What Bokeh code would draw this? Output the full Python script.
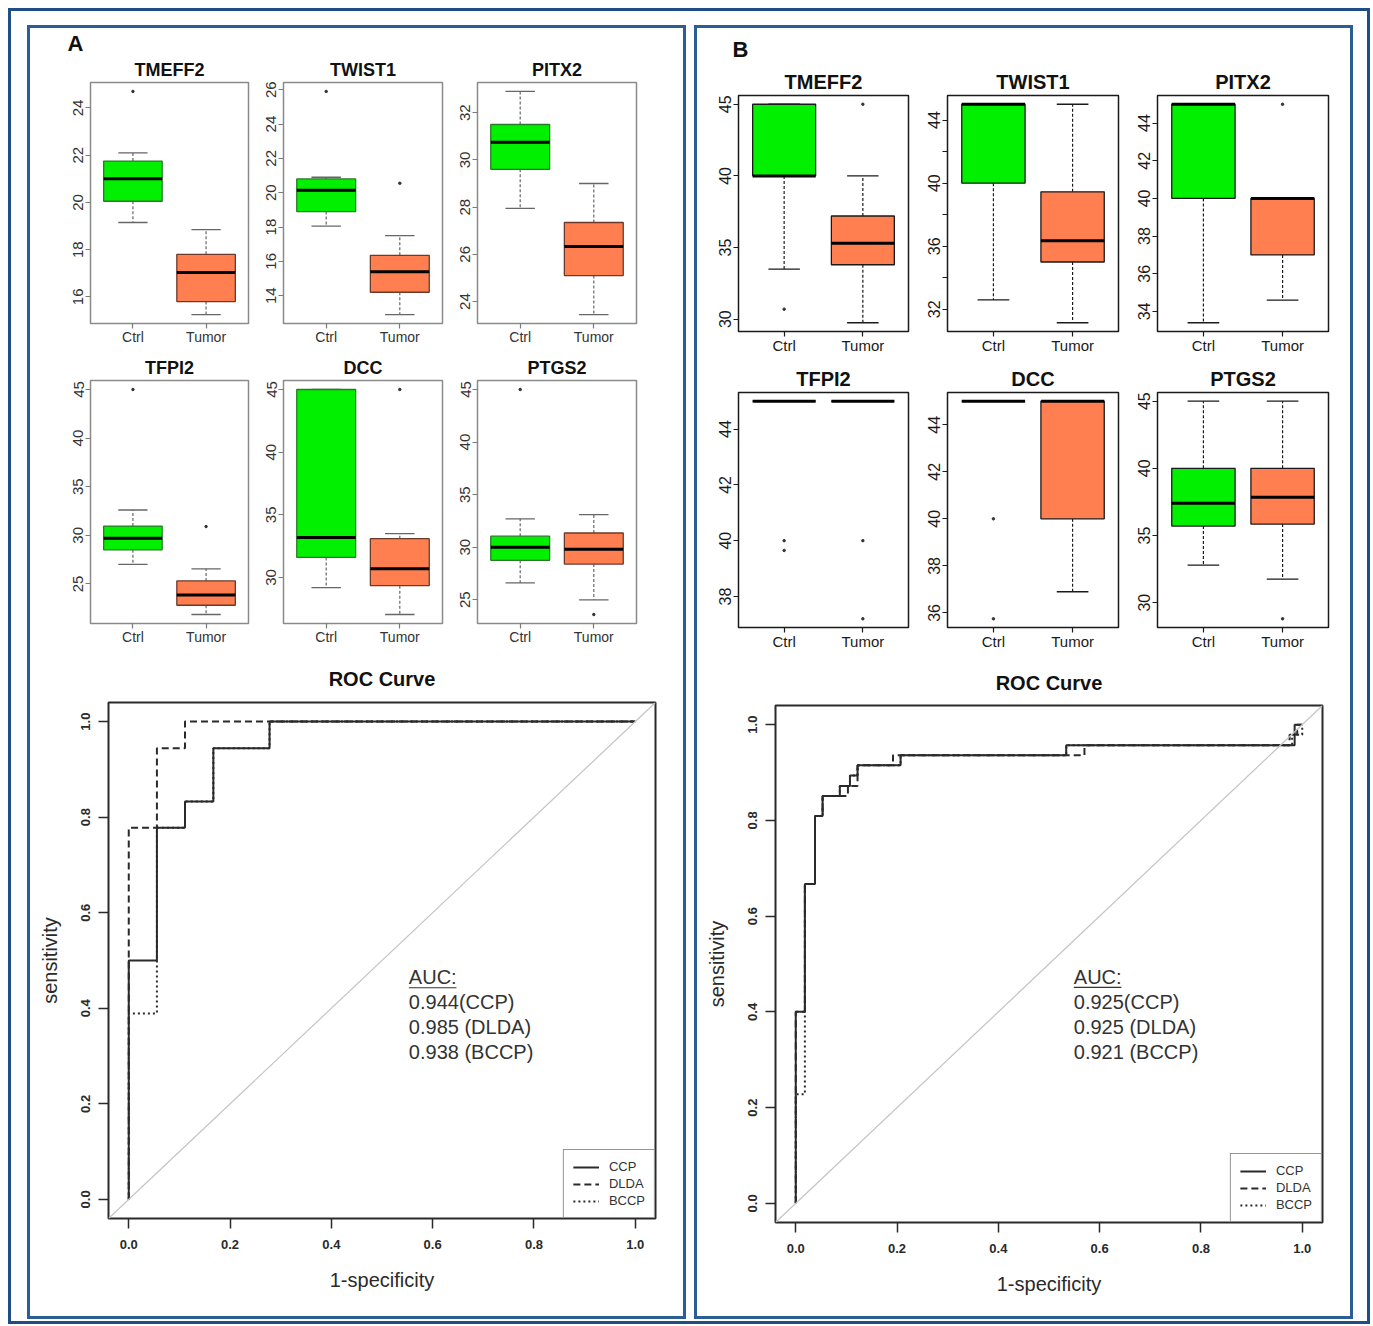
import math
from bokeh.plotting import figure
from bokeh.layouts import row, column
from bokeh.models import (ColumnDataSource, FixedTicker, Title, Label, Slope,
                          NumeralTickFormatter, Range1d)
from bokeh.transform import dodge
from bokeh.embed import file_html
from bokeh.resources import INLINE

FONT = "Liberation Sans"

# ---------------- data ----------------
groups = ["Ctrl", "Tumor"]
genes = ["TMEFF2", "TWIST1", "PITX2", "TFPI2", "DCC", "PTGS2"]

# Panel A box statistics (lower whisker, Q1, median, Q3, upper whisker) per gene
A_ctrl_low = [19.15, 18.05, 27.95, 27.0, 29.2, 26.6]
A_ctrl_q1 = [20.05, 18.9, 29.6, 28.5, 31.6, 28.75]
A_ctrl_med = [21.0, 20.15, 30.75, 29.7, 33.2, 30.0]
A_ctrl_q3 = [21.75, 20.8, 31.5, 30.95, 45.0, 31.05]
A_ctrl_high = [22.1, 20.9, 32.9, 32.6, 45.0, 32.7]
A_tumor_low = [15.25, 12.9, 23.45, 21.85, 27.05, 25.0]
A_tumor_q1 = [15.8, 14.2, 25.1, 22.8, 29.35, 28.4]
A_tumor_med = [17.03, 15.4, 26.33, 23.85, 30.7, 29.8]
A_tumor_q3 = [17.8, 16.35, 27.35, 25.3, 33.1, 31.35]
A_tumor_high = [18.85, 17.5, 29.0, 26.55, 33.5, 33.1]
A_ctrl_out = [[24.7], [25.9], [], [45.0], [], [45.0]]
A_tumor_out = [[], [20.55], [], [30.9], [45.0], [23.6]]
A_yticks = [[16, 18, 20, 22, 24], [14, 16, 18, 20, 22, 24, 26], [24, 26, 28, 30, 32],
            [25, 30, 35, 40, 45], [30, 35, 40, 45], [25, 30, 35, 40, 45]]
A_blank = [[], [], [], [], [], []]

# Panel B box statistics
B_ctrl_low = [33.5, 32.6, 33.4, 45.0, 45.0, 32.8]
B_ctrl_q1 = [40.0, 40.0, 40.0, 45.0, 45.0, 35.7]
B_ctrl_med = [40.0, 45.0, 45.0, 45.0, 45.0, 37.4]
B_ctrl_q3 = [45.0, 45.0, 45.0, 45.0, 45.0, 40.0]
B_ctrl_high = [45.0, 45.0, 45.0, 45.0, 45.0, 45.0]
B_tumor_low = [29.75, 31.15, 34.6, 45.0, 36.9, 31.75]
B_tumor_q1 = [33.8, 35.0, 37.0, 45.0, 40.0, 35.85]
B_tumor_med = [35.3, 36.35, 40.0, 45.0, 45.0, 37.85]
B_tumor_q3 = [37.2, 39.45, 40.0, 45.0, 45.0, 40.0]
B_tumor_high = [40.0, 45.0, 40.0, 45.0, 45.0, 45.0]
B_ctrl_out = [[30.7], [], [], [40.0, 39.65], [40.0, 35.75], []]
B_tumor_out = [[45.0], [], [45.0], [40.0, 37.2], [], [28.8]]
B_yticks = [[30, 35, 40, 45], [32, 34, 36, 38, 40, 42, 44], [34, 36, 38, 40, 42, 44],
            [38, 40, 42, 44], [36, 38, 40, 42, 44], [30, 35, 40, 45]]
B_blank = [[], [34, 38, 42], [], [], [], []]

# ROC curves (1-specificity, sensitivity)
A_ccp_fpr = [0.0, 0.0, 0.0556, 0.0556, 0.111, 0.111, 0.167, 0.167, 0.278, 0.278, 1.0]
A_ccp_tpr = [0.0, 0.5, 0.5, 0.778, 0.778, 0.833, 0.833, 0.944, 0.944, 1.0, 1.0]
A_dlda_fpr = [0.0, 0.0, 0.0556, 0.0556, 0.111, 0.111, 1.0]
A_dlda_tpr = [0.0, 0.778, 0.778, 0.944, 0.944, 1.0, 1.0]
A_bccp_fpr = [0.0, 0.0, 0.0556, 0.0556, 0.111, 0.111, 0.167, 0.167, 0.278, 0.278, 1.0]
A_bccp_tpr = [0.0, 0.389, 0.389, 0.778, 0.778, 0.833, 0.833, 0.944, 0.944, 1.0, 1.0]
A_auc = ["0.944(CCP)", "0.985 (DLDA)", "0.938 (BCCP)"]

B_ccp_fpr = [0.0, 0.0, 0.018, 0.018, 0.038, 0.038, 0.053, 0.053, 0.087, 0.087, 0.107, 0.107,
             0.122, 0.122, 0.207, 0.207, 0.534, 0.534, 0.985, 0.985, 1.0]
B_ccp_tpr = [0.0, 0.4, 0.4, 0.667, 0.667, 0.809, 0.809, 0.851, 0.851, 0.872, 0.872, 0.894,
             0.894, 0.915, 0.915, 0.936, 0.936, 0.957, 0.957, 1.0, 1.0]
B_dlda_fpr = [0.0, 0.0, 0.018, 0.018, 0.038, 0.038, 0.053, 0.053, 0.103, 0.103, 0.122, 0.122,
              0.192, 0.192, 0.57, 0.57, 0.975, 0.975, 0.99, 0.99, 1.0]
B_dlda_tpr = [0.0, 0.4, 0.4, 0.667, 0.667, 0.809, 0.809, 0.851, 0.851, 0.872, 0.872, 0.915,
              0.915, 0.936, 0.936, 0.957, 0.957, 0.979, 0.979, 1.0, 1.0]
B_bccp_fpr = [0.0, 0.0, 0.018, 0.018, 0.038, 0.038, 0.053, 0.053, 0.087, 0.087, 0.107, 0.107,
              0.122, 0.122, 0.207, 0.207, 0.534, 0.534, 0.98, 0.98, 1.0, 1.0]
B_bccp_tpr = [0.0, 0.228, 0.228, 0.667, 0.667, 0.809, 0.809, 0.851, 0.851, 0.872, 0.872, 0.894,
              0.894, 0.915, 0.915, 0.936, 0.936, 0.957, 0.957, 0.979, 0.979, 1.0]
B_auc = ["0.925(CCP)", "0.925 (DLDA)", "0.921 (BCCP)"]

# ---------------- styles ----------------
GREEN = "#00F000"
CORAL = "#FF7F50"
STYLE_A = dict(frame="#8a8a8a", tick="#7a7a7a", label="#333333", whisk="#666666",
               edge=["#2a7a2a", "#6a3a2a"], wdash="3 2", title_size="18px",
               ytick_size="15px", xtick_size="14px")
STYLE_B = dict(frame="#1a1a1a", tick="#1a1a1a", label="#1a1a1a", whisk="#1a1a1a",
               edge=["#1a1a1a", "#1a1a1a"], wdash="3 2", title_size="20px",
               ytick_size="16px", xtick_size="15px")


def style_title(t, text, size, align="center", offset=0, standoff=5):
    t.text = text
    t.align = align
    t.offset = offset
    t.text_font = FONT
    t.text_font_style = "bold"
    t.text_font_size = size
    t.text_color = "#111111"
    t.standoff = standoff


def box_fig(i, side, W, H, bl, br, bt, bb, st, letter=None, letter_offset=0, letter_standoff=0):
    if side == "A":
        ctrl = [A_ctrl_low[i], A_ctrl_q1[i], A_ctrl_med[i], A_ctrl_q3[i], A_ctrl_high[i]]
        tum = [A_tumor_low[i], A_tumor_q1[i], A_tumor_med[i], A_tumor_q3[i], A_tumor_high[i]]
        co, to, yt, bl_ticks = A_ctrl_out[i], A_tumor_out[i], A_yticks[i], A_blank[i]
    else:
        ctrl = [B_ctrl_low[i], B_ctrl_q1[i], B_ctrl_med[i], B_ctrl_q3[i], B_ctrl_high[i]]
        tum = [B_tumor_low[i], B_tumor_q1[i], B_tumor_med[i], B_tumor_q3[i], B_tumor_high[i]]
        co, to, yt, bl_ticks = B_ctrl_out[i], B_tumor_out[i], B_yticks[i], B_blank[i]
    lo = min([ctrl[0], tum[0]] + co + to)
    hi = max([ctrl[4], tum[4]] + co + to)
    pad = (hi - lo) * 0.04
    p = figure(width=W, height=H, x_range=Range1d(0.42, 2.58), y_range=Range1d(lo - pad, hi + pad),
               toolbar_location=None, output_backend="svg", tools="")
    p.min_border_left, p.min_border_right, p.min_border_top, p.min_border_bottom = bl, br, bt, bb
    p.xgrid.visible = False
    p.ygrid.visible = False
    p.outline_line_color = st["frame"]
    p.outline_line_width = 1.5
    p.background_fill_color = "white"
    p.border_fill_color = "white"
    src = ColumnDataSource(dict(
        x=[1, 2], low=[ctrl[0], tum[0]], q1=[ctrl[1], tum[1]], med=[ctrl[2], tum[2]],
        q3=[ctrl[3], tum[3]], high=[ctrl[4], tum[4]], fill=[GREEN, CORAL], edge=st["edge"]))
    p.segment(x0="x", y0="q3", x1="x", y1="high", source=src, line_color=st["whisk"],
              line_width=1.2, line_dash=st["wdash"])
    p.segment(x0="x", y0="q1", x1="x", y1="low", source=src, line_color=st["whisk"],
              line_width=1.2, line_dash=st["wdash"])
    p.segment(x0=dodge("x", -0.2), x1=dodge("x", 0.2), y0="high", y1="high", source=src,
              line_color=st["whisk"], line_width=1.3)
    p.segment(x0=dodge("x", -0.2), x1=dodge("x", 0.2), y0="low", y1="low", source=src,
              line_color=st["whisk"], line_width=1.3)
    p.vbar(x="x", width=0.8, bottom="q1", top="q3", source=src, fill_color="fill",
           line_color="edge", line_width=1.3)
    p.segment(x0=dodge("x", -0.4), x1=dodge("x", 0.4), y0="med", y1="med", source=src,
              line_color="#000000", line_width=3)
    ox = [1] * len(co) + [2] * len(to)
    oy = co + to
    if oy:
        p.scatter(ox, oy, size=2.5, color="#333333")
    # axes
    p.yaxis.ticker = FixedTicker(ticks=yt)
    p.yaxis.major_label_overrides = {t: "" for t in bl_ticks}
    p.yaxis.major_label_orientation = "parallel"
    p.xaxis.ticker = FixedTicker(ticks=[1, 2])
    p.xaxis.major_label_overrides = {1: groups[0], 2: groups[1]}
    for ax, size in ((p.xaxis, st["xtick_size"]), (p.yaxis, st["ytick_size"])):
        ax.axis_line_color = None
        ax.major_tick_line_color = st["tick"]
        ax.major_tick_line_width = 1.2
        ax.major_tick_out = 5
        ax.major_tick_in = 0
        ax.minor_tick_line_color = None
        ax.major_label_text_font = FONT
        ax.major_label_text_font_size = size
        ax.major_label_text_color = st["label"]
        ax.major_label_standoff = 2
    p.xaxis.major_label_standoff = 0
    if letter is None:
        style_title(p.title, genes[i], st["title_size"], standoff=5)
    else:
        # outer title: panel letter; inner (nearest frame): gene name
        style_title(p.title, letter, "22px", align="left", offset=letter_offset,
                    standoff=letter_standoff)
        gt = Title()
        style_title(gt, genes[i], st["title_size"], standoff=5)
        p.add_layout(gt, "above")
    return p


def roc_fig(side, W, H, bl, br, bt, bb, title_standoff):
    if side == "A":
        curves = [(A_ccp_fpr, A_ccp_tpr, "CCP", "solid"), (A_dlda_fpr, A_dlda_tpr, "DLDA", "7 4"),
                  (A_bccp_fpr, A_bccp_tpr, "BCCP", "2 3")]
        auc, ax0, ay0 = A_auc, 0.553, 0.465
    else:
        curves = [(B_ccp_fpr, B_ccp_tpr, "CCP", "solid"), (B_dlda_fpr, B_dlda_tpr, "DLDA", "7 4"),
                  (B_bccp_fpr, B_bccp_tpr, "BCCP", "2 3")]
        auc, ax0, ay0 = B_auc, 0.549, 0.473
    p = figure(width=W, height=H, x_range=Range1d(-0.04, 1.04), y_range=Range1d(-0.04, 1.04),
               toolbar_location=None, output_backend="svg", tools="")
    p.min_border_left, p.min_border_right, p.min_border_top, p.min_border_bottom = bl, br, bt, bb
    p.xgrid.visible = False
    p.ygrid.visible = False
    p.outline_line_color = "#2a2a2a"
    p.outline_line_width = 2
    p.add_layout(Slope(gradient=1, y_intercept=0, line_color="#c4c4c4", line_width=1.2))
    for fpr, tpr, name, dash in curves:
        p.line(fpr, tpr, line_color="#2a2a2a", line_width=2, line_dash=dash, legend_label=name)
    tick_vals = [0.0, 0.2, 0.4, 0.6, 0.8, 1.0]
    for ax in (p.xaxis, p.yaxis):
        ax.ticker = FixedTicker(ticks=tick_vals)
        ax.formatter = NumeralTickFormatter(format="0.0")
        ax.axis_line_color = None
        ax.major_tick_line_color = "#2a2a2a"
        ax.major_tick_line_width = 1.5
        ax.major_tick_out = 10
        ax.major_tick_in = 0
        ax.minor_tick_line_color = None
        ax.major_label_text_font = FONT
        ax.major_label_text_font_size = "13px"
        ax.major_label_text_font_style = "bold"
        ax.major_label_text_color = "#2a2a2a"
        ax.major_label_standoff = 8
        ax.axis_label_text_font = FONT
        ax.axis_label_text_font_size = "20px"
        ax.axis_label_text_font_style = "normal"
        ax.axis_label_text_color = "#2a2a2a"
        ax.axis_label_standoff = 18
    p.xaxis.major_label_standoff = 11
    p.xaxis.axis_label_standoff = 17
    p.yaxis.major_label_orientation = "parallel"
    p.xaxis.axis_label = "1-specificity"
    p.yaxis.axis_label = "sensitivity"
    style_title(p.title, "ROC Curve", "20px", offset=-34, standoff=title_standoff)
    # AUC annotation
    p.add_layout(Label(x=ax0, y=ay0, text="AUC:", text_font=FONT, text_font_size="20px",
                       text_color="#333333", text_baseline="middle"))
    p.segment(x0=[ax0], x1=[ax0 + 0.094], y0=[ay0 - 0.022], y1=[ay0 - 0.022],
              line_color="#333333", line_width=1.2)
    for k, t in enumerate(auc):
        p.add_layout(Label(x=ax0, y=ay0, y_offset=-25 * (k + 1), text=t, text_font=FONT,
                           text_font_size="20px", text_color="#333333", text_baseline="middle"))
    lg = p.legend[0]
    lg.location = "bottom_right"
    lg.margin = 0
    lg.border_line_color = "#2a2a2a"
    lg.border_line_width = 1.5
    lg.label_text_font = FONT
    lg.label_text_font_size = "13px"
    lg.label_text_color = "#333333"
    lg.glyph_width = 26
    lg.glyph_height = 14
    lg.label_height = 14
    lg.spacing = 2
    lg.padding = 9
    lg.label_standoff = 10
    return p


# ---------------- panel A ----------------
A1 = box_fig(0, "A", 230, 322, 60, 12, 53, 27, STYLE_A, letter="A", letter_offset=-23,
             letter_standoff=0)
A2 = box_fig(1, "A", 194, 322, 23, 12, 53, 27, STYLE_A)
A3 = box_fig(2, "A", 229, 322, 23, 47, 53, 27, STYLE_A)
A4 = box_fig(3, "A", 230, 300, 60, 12, 30, 27, STYLE_A)
A5 = box_fig(4, "A", 194, 300, 23, 12, 30, 27, STYLE_A)
A6 = box_fig(5, "A", 229, 300, 23, 47, 30, 27, STYLE_A)
rocA = roc_fig("A", 653, 666, 78, 28, 52, 98, 25)

# ---------------- panel B ----------------
B1 = box_fig(0, "B", 223, 330, 41, 12, 67, 27, STYLE_B, letter="B", letter_offset=-6,
             letter_standoff=10)
B2 = box_fig(1, "B", 210, 330, 27, 12, 67, 27, STYLE_B)
B3 = box_fig(2, "B", 220, 330, 27, 22, 67, 27, STYLE_B)
B4 = box_fig(3, "B", 223, 297, 41, 12, 34, 28, STYLE_B)
B5 = box_fig(4, "B", 210, 297, 27, 12, 34, 28, STYLE_B)
B6 = box_fig(5, "B", 220, 297, 27, 22, 34, 28, STYLE_B)
rocB = roc_fig("B", 653, 661, 78, 28, 50, 94, 24)

PANEL = {"border": "3px solid #2B5E97", "background-color": "white"}
panelA = column(row(A1, A2, A3), row(A4, A5, A6), rocA, styles=PANEL)
panelB = column(row(B1, B2, B3), row(B4, B5, B6), rocB, styles=PANEL)
root = row(panelA, panelB, spacing=8, margin=(8, 0, 0, 8),
           styles={"border": "3px solid #1F4E85", "padding": "14px 14px 2px 16px",
                   "background-color": "white"})

open("out.html", "w").write(file_html(root, INLINE))
